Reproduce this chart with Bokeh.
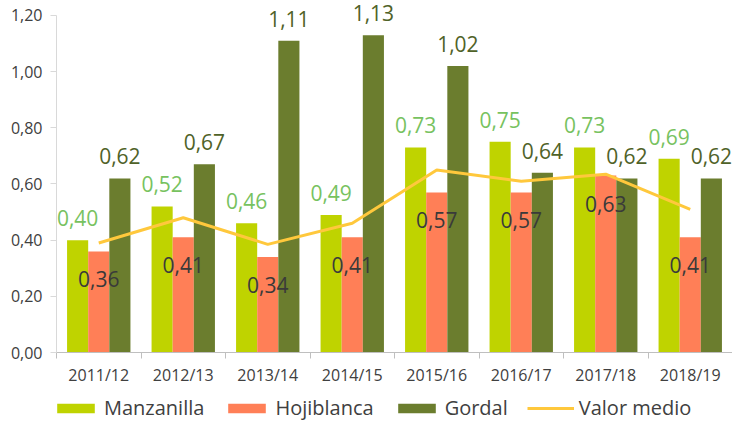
from bokeh.plotting import figure
from bokeh.layouts import column
from bokeh.models import (Range1d, FixedTicker, CustomJSTickFormatter, Legend, LegendItem,
                          ColumnDataSource, LinearAxis)
from bokeh.core.properties import value
from bokeh.embed import file_html
from bokeh.resources import INLINE

# ---- data ----
seasons = ["2011/12", "2012/13", "2013/14", "2014/15", "2015/16", "2016/17", "2017/18", "2018/19"]
manzanilla = [0.40, 0.52, 0.46, 0.49, 0.73, 0.75, 0.73, 0.69]
hojiblanca = [0.36, 0.41, 0.34, 0.41, 0.57, 0.57, 0.63, 0.41]
gordal = [0.62, 0.67, 1.11, 1.13, 1.02, 0.64, 0.62, 0.62]
valor_medio = [0.39, 0.48, 0.385, 0.46, 0.65, 0.61, 0.635, 0.51]
y_ticks = [0.0, 0.2, 0.4, 0.6, 0.8, 1.0, 1.2]
y_minor = [0.1, 0.3, 0.5, 0.7, 0.9, 1.1]
series_names = ["Manzanilla", "Hojiblanca", "Gordal", "Valor medio"]

FONT = "Open Sans"
C_MAN = "#BFD300"
C_HOJ = "#FF7F57"
C_GOR = "#6B7D2E"
C_LINE = "#FFC83C"

n = len(seasons)
centers = [i + 0.5 for i in range(n)]
bw = 0.25


def fmt(v):
    return ("%.2f" % v).replace(".", ",")


src = ColumnDataSource(dict(
    xc=centers,
    xm=[c - bw for c in centers],
    xh=centers,
    xg=[c + bw for c in centers],
    man=manzanilla, hoj=hojiblanca, gor=gordal, vm=valor_medio,
    lman=[fmt(v) for v in manzanilla],
    lhoj=[fmt(v) for v in hojiblanca],
    lgor=[fmt(v) for v in gordal],
))

p = figure(width=732, height=388, output_backend="svg", toolbar_location=None,
           x_range=Range1d(0, n), y_range=Range1d(0, 1.2534),
           min_border_left=56, min_border_right=0, min_border_top=0, min_border_bottom=36,
           x_axis_type=None, y_axis_type=None)
p.outline_line_color = None
p.background_fill_color = "white"
p.border_fill_color = "white"

# y axis
yax = LinearAxis(ticker=FixedTicker(ticks=y_ticks, minor_ticks=y_minor),
                 formatter=CustomJSTickFormatter(code="return tick.toFixed(2).replace('.', ',');"),
                 bounds=(0, 1.2))
yax.axis_line_color = "#D9D9D9"
yax.major_tick_line_color = "#D9D9D9"
yax.major_tick_out = 6
yax.major_tick_in = 0
yax.minor_tick_line_color = None
yax.major_label_text_font = FONT
yax.major_label_text_font_size = "16px"
yax.major_label_text_color = "#404040"
yax.major_label_standoff = 8
p.add_layout(yax, "left")

# x axis: labels at centers, minor ticks at category boundaries
xax = LinearAxis(ticker=FixedTicker(ticks=centers, minor_ticks=list(range(n + 1))),
                 major_label_overrides={c: s for c, s in zip(centers, seasons)})
xax.axis_line_color = "#BFBFBF"
xax.major_tick_line_color = None
xax.major_tick_out = 6
xax.major_tick_in = 0
xax.minor_tick_line_color = "#BFBFBF"
xax.minor_tick_out = 6
xax.minor_tick_in = 0
xax.major_label_text_font = FONT
xax.major_label_text_font_size = "16px"
xax.major_label_text_color = "#404040"
xax.major_label_standoff = 5
p.add_layout(xax, "below")

# grid
p.ygrid.ticker = FixedTicker(ticks=y_ticks, minor_ticks=y_minor)
p.ygrid.grid_line_color = "#D9D9D9"
p.ygrid.minor_grid_line_color = "#D9D9D9"
p.ygrid.bounds = (0, 1.2)
p.xgrid.visible = False

p.vbar(x="xm", top="man", width=bw, bottom=0, source=src, fill_color=C_MAN, line_color=None)
p.vbar(x="xh", top="hoj", width=bw, bottom=0, source=src, fill_color=C_HOJ, line_color=None)
p.vbar(x="xg", top="gor", width=bw, bottom=0, source=src, fill_color=C_GOR, line_color=None)
p.line(x="xc", y="vm", source=src, line_color=C_LINE, line_width=3)

p.text(x="xm", y="man", text="lman", source=src, text_font=value(FONT), text_font_size="21px",
       text_color="#77C25F", text_align="center", text_baseline="middle", y_offset=-22)
p.text(x="xg", y="gor", text="lgor", source=src, text_font=value(FONT), text_font_size="21px",
       text_color="#4F6228", text_align="center", text_baseline="middle", y_offset=-22)
p.text(x="xh", y="hoj", text="lhoj", source=src, text_font=value(FONT), text_font_size="21px",
       text_color="#3A3A3A", text_align="center", text_baseline="middle", y_offset=28)

# ---- legend strip (separate figure below) ----
lg = figure(width=732, height=33, output_backend="svg", toolbar_location=None,
            x_range=Range1d(0, 1), y_range=Range1d(0, 1),
            min_border_left=0, min_border_right=0, min_border_top=0, min_border_bottom=0,
            x_axis_type=None, y_axis_type=None)
lg.outline_line_color = None
lg.xgrid.visible = False
lg.ygrid.visible = False
# legend-only renderers, placed outside the visible range
off = ColumnDataSource(dict(x=[5, 6], y=[5, 5]))
d_man = lg.vbar(x="x", top="y", bottom=4, width=0.1, source=off, fill_color=C_MAN, line_color=None)
d_hoj = lg.vbar(x="x", top="y", bottom=4, width=0.1, source=off, fill_color=C_HOJ, line_color=None)
d_gor = lg.vbar(x="x", top="y", bottom=4, width=0.1, source=off, fill_color=C_GOR, line_color=None)
d_line = lg.line(x="x", y="y", source=off, line_color=C_LINE, line_width=3)

legend = Legend(items=[LegendItem(label=series_names[0], renderers=[d_man]),
                       LegendItem(label=series_names[1], renderers=[d_hoj]),
                       LegendItem(label=series_names[2], renderers=[d_gor]),
                       LegendItem(label=series_names[3], renderers=[d_line])],
                orientation="horizontal", location=(-4, 0),
                glyph_width=47, glyph_height=12, label_standoff=5, spacing=19,
                padding=0, margin=0, border_line_color=None, background_fill_alpha=0,
                label_text_font=FONT, label_text_font_size="20px", label_text_color="#404040")
lg.add_layout(legend, "center")

layout = column(p, lg, spacing=0)
open("out.html", "w").write(file_html(layout, INLINE))
